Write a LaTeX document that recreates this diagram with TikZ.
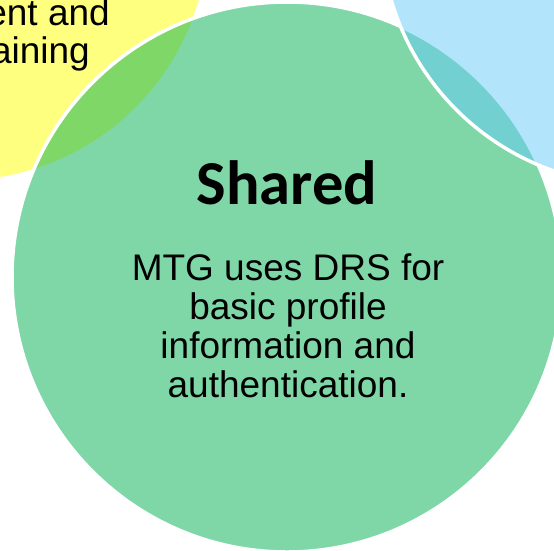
\documentclass[tikz,border=0pt]{standalone}
\usepackage{fontspec}
\setmainfont{Liberation Sans}
\newfontfamily\shfont{Carlito}
\definecolor{ybase}{RGB}{255,255,0}
\definecolor{gbase}{RGB}{0,176,80}
\definecolor{bbase}{RGB}{103,203,249}
\begin{document}
\begin{tikzpicture}[x=1pt,y=-1pt,
  venn/.style={draw=white, line width=3.5pt, fill opacity=0.5, draw opacity=1},
  body/.style={font=\fontsize{37}{39}\selectfont, inner sep=0pt, anchor=base},
  titletext/.style={font=\shfont\bfseries\fontsize{62.5}{62.5}\selectfont, inner sep=0pt, anchor=base}
]
\useasboundingbox (0,0) rectangle (554,550);
\clip (0,0) rectangle (554,550);
\fill[white] (0,0) rectangle (554,550);
\draw[venn, fill=ybase] (-40,-68) circle[radius=250pt];
\draw[venn, fill=gbase] (287,277) circle[radius=275pt];
\draw[venn, fill=bbase] (638,-72) circle[radius=257pt];
\node[body, anchor=base east] (y1) at (110,25) {ent and};
\node[body, anchor=base east] (y2) at (90,63) {aining};
\node[titletext] (title) at (287,204) {Shared};
\node[body] (d1) at (288,280) {MTG uses DRS for};
\node[body] (d2) at (288,319) {basic profile};
\node[body] (d3) at (288,358) {information and};
\node[body] (d4) at (288,397) {authentication.};
\end{tikzpicture}
\end{document}
